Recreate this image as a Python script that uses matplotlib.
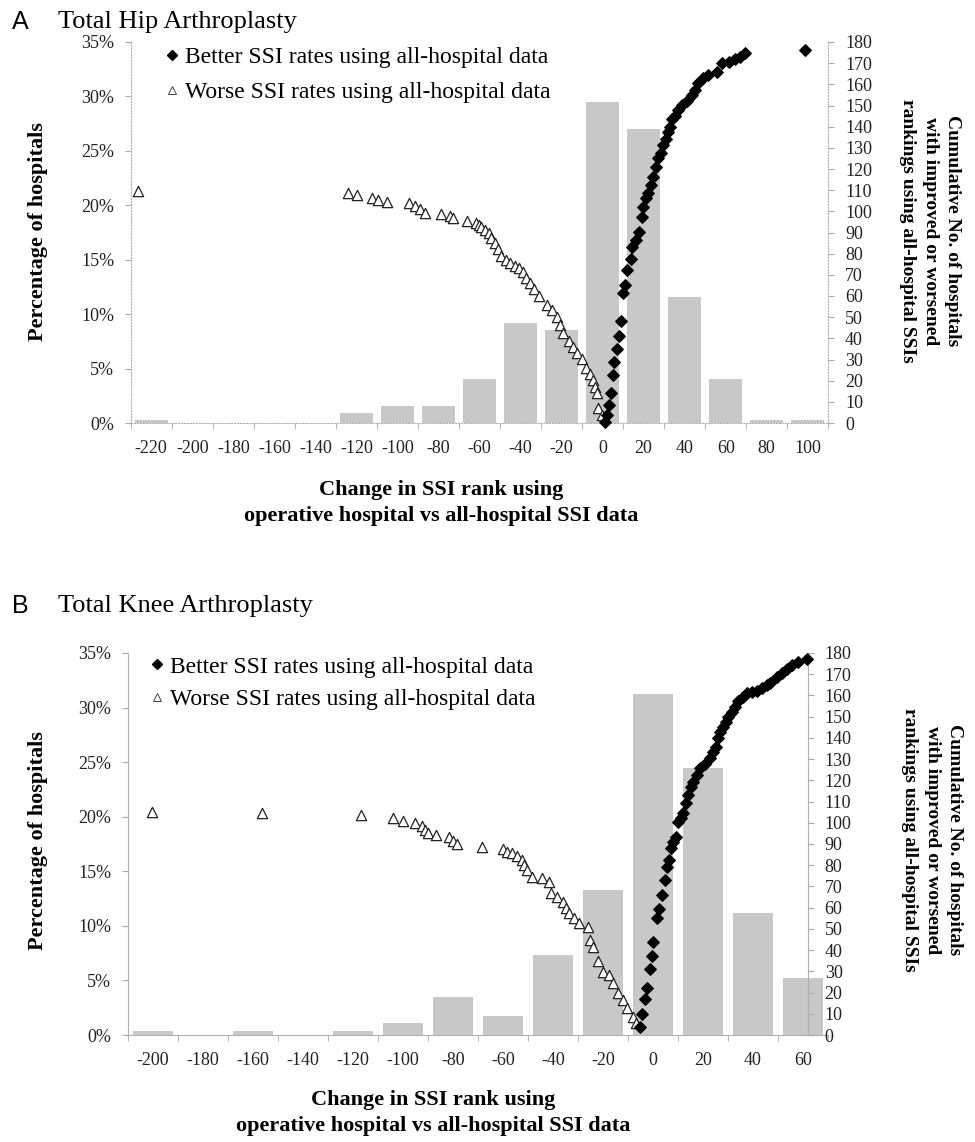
import matplotlib.pyplot as plt
from matplotlib.lines import Line2D
from matplotlib.ticker import FuncFormatter

plt.rcParams['font.family'] = ['Liberation Serif', 'DejaVu Serif']

# ---- A: total hip arthroplasty ----
hip_bins = [-220, -200, -180, -160, -140, -120, -100, -80, -60, -40, -20, 0, 20, 40, 60, 80, 100]
hip_pct = [0.3, 0, 0, 0, 0, 0.9, 1.6, 1.6, 4.0, 9.2, 8.5, 29.5, 27.0, 11.6, 4.0, 0.3, 0.3]

hip_better_x = [1.1, 2.0, 3.2, 3.9, 4.9, 5.5, 7.1, 8.1, 8.9, 9.8, 10.9, 12.0, 13.7, 14.4, 16.1,
                17.9, 19.0, 19.8, 21.1, 22.3, 23.6, 24.7, 25.9, 27.1, 28.3, 29.6, 30.9, 31.7,
                32.8, 33.7, 35.3, 36.9, 38.6, 41.0, 43.4, 45.0, 46.7, 49.1, 51.5, 55.6, 58.1,
                61.8, 64.6, 67.0, 69.4, 98.7]
hip_better_y = [0.6, 3.8, 8.5, 14.0, 22.7, 29.0, 34.8, 41.1, 48.2, 61.3, 65.2, 72.3, 77.3, 83.3,
                86.4, 90.4, 97.4, 102.2, 106.1, 108.5, 112.4, 116.3, 121.1, 125.0, 127.7, 131.3,
                134.0, 137.6, 140.0, 143.5, 145.0, 147.9, 150.2, 152.2, 154.9, 157.3, 160.5,
                162.8, 164.4, 165.9, 169.9, 170.7, 171.8, 173.0, 174.9, 176.2]

hip_worse_x = [-226.2, -124.2, -119.8, -112.4, -109.5, -105.1, -94.4, -91.2, -88.8, -86.7, -78.9,
               -74.5, -72.9, -66.1, -61.5, -60.2, -59.1, -57.4, -55.5, -54.2, -52.6, -51.0, -49.3,
               -47.2, -45.2, -42.8, -40.7, -38.8, -37.1, -35.5, -33.5, -30.9, -27.0, -24.9, -22.4,
               -20.8, -19.2, -16.3, -14.3, -12.4, -10.2, -8.1, -6.2, -4.6, -3.8, -2.9, -2.1, -0.5]
hip_worse_y = [109.5, 108.5, 107.7, 106.4, 105.3, 104.5, 103.8, 102.5, 100.9, 99.3, 98.6, 97.8,
               96.7, 95.6, 94.3, 93.5, 92.7, 91.2, 89.6, 87.5, 84.9, 82.0, 78.9, 77.0, 75.4, 74.2,
               73.1, 71.5, 68.3, 66.0, 63.2, 60.0, 55.7, 53.4, 50.2, 46.5, 42.4, 38.9, 36.0, 32.9,
               30.1, 25.8, 23.1, 20.3, 17.1, 14.0, 6.9, 3.8]

# ---- B: total knee arthroplasty ----
knee_bins = [-200, -180, -160, -140, -120, -100, -80, -60, -40, -20, 0, 20, 40, 60]
knee_pct = [0.35, 0, 0.35, 0, 0.35, 1.07, 3.5, 1.74, 7.3, 13.3, 31.2, 24.5, 11.15, 5.25]

knee_better_x = [-5.2, -4.5, -3.2, -2.3, -1.2, -0.5, 0.1, 1.5, 2.5, 3.5, 4.8, 5.5, 6.4, 7.2, 8.1,
                 9.1, 10.1, 11.2, 12.1, 13.2, 14.1, 15.1, 15.9, 17.5, 18.8, 20.8, 22.8, 24.1, 25.2,
                 26.1, 26.8, 28.1, 29.2, 30.1, 31.5, 32.8, 34.1, 35.9, 37.5, 39.5, 41.5, 43.5,
                 45.5, 46.8, 49.5, 51.5, 53.5, 55.5, 58.1, 61.5]
knee_better_y = [3.6, 9.9, 16.8, 22.0, 31.0, 37.2, 44.0, 55.0, 59.2, 66.0, 73.0, 79.3, 82.5, 88.0,
                 91.1, 93.2, 100.5, 102.1, 104.5, 109.2, 113.1, 117.0, 119.4, 122.5, 125.7, 127.7,
                 130.4, 133.5, 135.9, 139.8, 142.9, 145.0, 147.6, 149.7, 152.4, 154.7, 157.5,
                 159.4, 161.0, 161.8, 162.3, 163.4, 164.9, 166.0, 168.9, 170.5, 172.3, 174.4,
                 175.9, 177.0]

knee_worse_x = [-200.5, -156.5, -117.0, -103.9, -99.9, -95.2, -92.3, -91.2, -89.9, -86.9, -81.6,
                -79.9, -78.3, -68.5, -59.9, -58.5, -56.5, -54.5, -52.5, -51.6, -50.5, -48.5, -44.5,
                -41.5, -40.9, -38.3, -36.1, -34.8, -33.5, -31.6, -29.5, -25.9, -25.2, -23.9, -22.1,
                -19.9, -17.5, -15.9, -13.9, -11.9, -10.5, -7.9, -6.8]
knee_worse_y = [105.2, 104.6, 103.7, 102.1, 101.0, 100.0, 98.5, 96.6, 95.0, 94.3, 93.2, 91.6,
                90.0, 88.7, 87.5, 86.4, 85.6, 84.4, 82.5, 80.1, 77.8, 74.6, 73.8, 72.3, 66.8, 65.2,
                62.8, 59.7, 57.3, 55.0, 52.6, 50.7, 44.8, 41.6, 34.9, 29.8, 28.3, 24.4, 19.9, 16.5,
                12.6, 8.6, 5.5]

legend_labels = ['Better SSI rates using all-hospital data', 'Worse SSI rates using all-hospital data']
right_label = 'Cumulative No. of hospitals\nwith improved or worsened\nrankings using all-hospital SSIs'
x_label = 'Change in SSI rank using\noperative hospital vs all-hospital SSI data'

W, H = 975, 1142
fig = plt.figure(figsize=(W / 100, H / 100), dpi=100)


def draw_panel(rect, bins, pct, bx, by, wx, wy, right_x, dotted, leg_anchor, leg_space):
    ax = fig.add_axes(rect)
    ax.bar(bins, pct, width=16, color='#c8c8c8', zorder=1)
    ax.set_xlim(bins[0] - 10, bins[-1] + 10)
    ax.set_ylim(0, 35)
    ax.set_yticks(range(0, 36, 5))
    ax.yaxis.set_major_formatter(FuncFormatter(lambda v, p: '%d%%' % v))
    ax.set_xticks(bins)
    ax.set_xticklabels([str(b) for b in bins])
    ax.set_xticks([b - 10 for b in bins] + [bins[-1] + 10], minor=True)
    ax.tick_params(axis='x', which='major', length=0, pad=12, labelsize=13, labelcolor='#222')
    ax.tick_params(axis='x', which='minor', length=4, color='#aaaaaa')
    ax.tick_params(axis='y', length=4, color='#aaaaaa', pad=8, labelsize=13, labelcolor='#222')

    ax2 = ax.twinx()
    ax2.set_ylim(0, 180)
    ax2.set_yticks(range(0, 181, 10))
    ax2.tick_params(axis='y', length=4, color='#aaaaaa', pad=8, labelsize=13, labelcolor='#222')
    ax2.scatter(wx, wy, marker='^', s=55, facecolors='white', edgecolors='#222222',
                linewidths=0.9, zorder=3, clip_on=False)
    ax2.scatter(bx, by, marker='D', s=34, color='black', zorder=4, clip_on=False)

    ls = ':' if dotted else '-'
    for a in (ax, ax2):
        a.spines['top'].set_visible(False)
    ax.spines['right'].set_visible(False)
    for s in ('left', 'bottom'):
        ax.spines[s].set_color('#b0b0b0')
        ax.spines[s].set_linestyle(ls)
        ax2.spines[s].set_visible(False)
    ax2.spines['right'].set_color('#b0b0b0')
    ax2.spines['right'].set_linestyle(ls)
    ax2.spines['right'].set_position(('data', right_x))

    handles = [Line2D([], [], ls='none', marker='D', ms=5, color='black'),
               Line2D([], [], ls='none', marker='^', ms=6, mfc='white', mec='#444444', mew=0.7)]
    ax2.legend(handles, legend_labels, loc='upper left', bbox_to_anchor=leg_anchor,
               frameon=False, fontsize=17, borderpad=0, borderaxespad=0,
               handlelength=0.6, handletextpad=0.25, labelspacing=leg_space)
    return ax, ax2


# panel A
draw_panel([130.7 / W, 1 - 423 / H, 697.6 / W, 381 / H], hip_bins, hip_pct,
           hip_better_x, hip_better_y, hip_worse_x, hip_worse_y, 110, True, (0.049, 0.987), 0.57)
fig.text(12 / W, 1 - 29 / H, 'A', family='Liberation Sans', fontsize=18, va='baseline')
fig.text(58 / W, 1 - 28 / H, 'Total Hip Arthroplasty', fontsize=19, va='baseline')
fig.text(38 / W, 1 - 232 / H, 'Percentage of hospitals', rotation=90, fontsize=16,
         fontweight='bold', ha='center', va='center')
fig.text(930 / W, 1 - 231 / H, right_label, rotation=-90, fontsize=14, fontweight='bold',
         ha='center', va='center', multialignment='center', linespacing=1.4)
fig.text(441 / W, 1 - 503 / H, x_label, fontsize=16, fontweight='bold', ha='center',
         va='center', linespacing=1.45)

# panel B
draw_panel([128 / W, 1 - 1035 / H, 700 / W, 382 / H], knee_bins, knee_pct,
           knee_better_x, knee_better_y, knee_worse_x, knee_worse_y, 62, False, (0.031, 0.992), 0.48)
fig.text(12 / W, 1 - 613 / H, 'B', family='Liberation Sans', fontsize=18, va='baseline')
fig.text(58 / W, 1 - 612 / H, 'Total Knee Arthroplasty', fontsize=19, va='baseline')
fig.text(38 / W, 1 - 841 / H, 'Percentage of hospitals', rotation=90, fontsize=16,
         fontweight='bold', ha='center', va='center')
fig.text(932 / W, 1 - 840 / H, right_label, rotation=-90, fontsize=14, fontweight='bold',
         ha='center', va='center', multialignment='center', linespacing=1.4)
fig.text(433 / W, 1 - 1113 / H, x_label, fontsize=16, fontweight='bold', ha='center',
         va='center', linespacing=1.45)

fig.savefig('out.png', dpi=100)
